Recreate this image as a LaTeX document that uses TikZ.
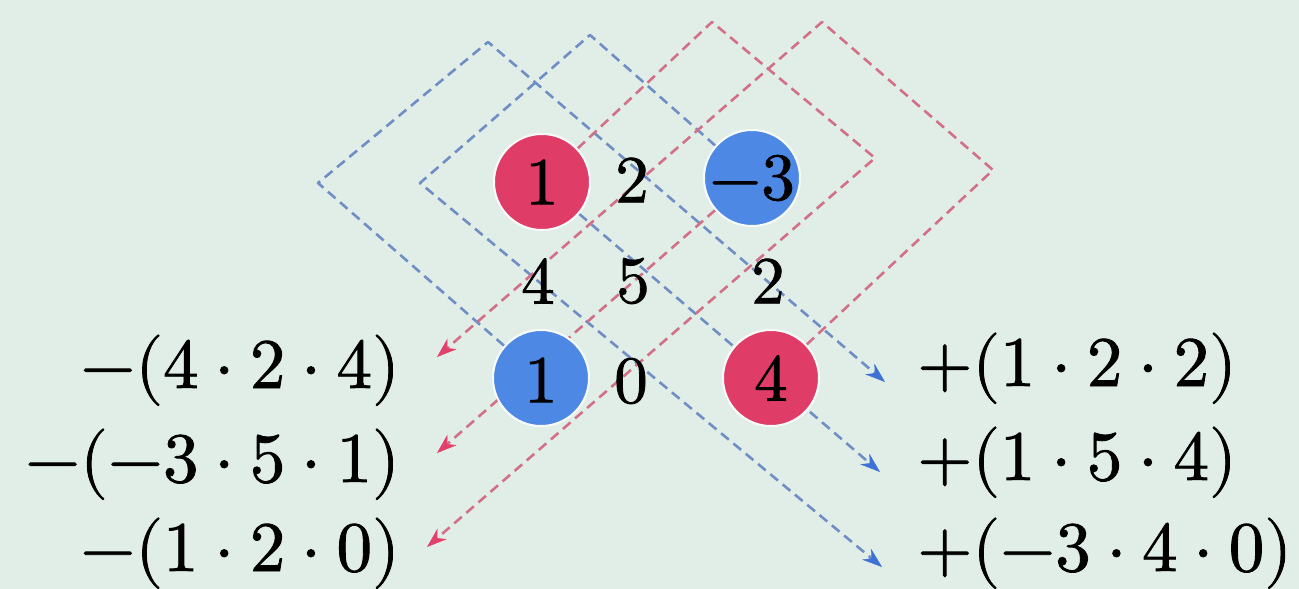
\documentclass[tikz,border=0pt]{standalone}
\usepackage{unicode-math}
\setmathfont{Latin Modern Math}[FakeBold=1.2]
\usetikzlibrary{arrows.meta}
\definecolor{bgc}{HTML}{E1EEE8}
\definecolor{redc}{HTML}{E03C68}
\definecolor{bluec}{HTML}{4C88E4}
\definecolor{reddash}{HTML}{D27088}
\definecolor{bluedash}{HTML}{6F8FC4}
\definecolor{redtip}{HTML}{E0406A}
\definecolor{bluetip}{HTML}{3F70D4}
\tikzset{
  entry/.style={inner sep=0pt, font=\fontsize{67}{80}\selectfont},
  disc/.style={circle, minimum size=96pt, inner sep=0pt, draw=white!70!bgc, line width=2pt},
  reddisc/.style={disc, fill=redc},
  bluedisc/.style={disc, fill=bluec},
  term/.style={inner sep=0pt, font=\fontsize{71}{85}\selectfont},
  reddashed/.style={draw=reddash, line width=2.6pt, dash pattern=on 10pt off 6pt, line join=round,
     -{Stealth[length=20pt, width=14pt, color=redtip, fill=redtip, line width=0.5pt]}},
  bluedashed/.style={draw=bluedash, line width=2.6pt, dash pattern=on 10pt off 6pt, line join=round,
     -{Stealth[length=20pt, width=14pt, color=bluetip, fill=bluetip, line width=0.5pt]}}
}
\begin{document}
\begin{tikzpicture}[x=1pt, y=-1pt]
\fill[bgc] (0,0) rectangle (1299,589);
\useasboundingbox (0,0) rectangle (1299,589);

% discs (positions only, drawn later on top)
\path (542,182) node[reddisc]  (r11) {}
      (752,178) node[bluedisc] (b13) {}
      (541,378) node[bluedisc] (b31) {}
      (771,378) node[reddisc]  (r33) {};

% path corners and arrow tips
\coordinate (LB1) at (318,183);
\coordinate (TB1) at (488,42);
\coordinate (LB2) at (420,183);
\coordinate (TB2) at (590,35);
\coordinate (TR1) at (712,22);
\coordinate (RR1) at (875,158);
\coordinate (TR2) at (822,22);
\coordinate (RR2) at (993,170);
\coordinate (tipB1) at (885,382);
\coordinate (tipB2) at (880,472);
\coordinate (tipB3) at (882,567);
\coordinate (tipR1) at (437,357);
\coordinate (tipR2) at (437,453);
\coordinate (tipR3) at (427,547);

% blue paths
\draw[bluedashed] (b31) -- (LB1) -- (TB1) -- (tipB1);
\draw[bluedashed] (r11) -- (tipB2);
\draw[bluedashed] (b13) -- (TB2) -- (LB2) -- (tipB3);
% red paths
\draw[reddashed] (r33) -- (RR2) -- (TR2) -- (tipR1);
\draw[reddashed] (b13) -- (tipR2);
\draw[reddashed] (r11) -- (TR1) -- (RR1) -- (tipR3);

% discs on top
\path (542,182) node[reddisc]  {}
      (752,178) node[bluedisc] {}
      (541,378) node[bluedisc] {}
      (771,378) node[reddisc]  {};

% matrix entries
\node[entry] (a11) at (542,182) {$1$};
\node[entry] (a12) at (632,180) {$2$};
\node[entry] (a13) at (752,178) {$-3$};
\node[entry] (a21) at (538,281) {$4$};
\node[entry] (a22) at (633,281) {$5$};
\node[entry] (a23) at (768,281) {$2$};
\node[entry] (a31) at (541,380) {$1$};
\node[entry] (a32) at (631,381) {$0$};
\node[entry] (a33) at (771,378) {$4$};

% terms
\node[term, anchor=base east] (m1) at (400,388) {$-(4\cdot 2\cdot 4)$};
\node[term, anchor=base east] (m2) at (400,482) {$-(-3\cdot 5\cdot 1)$};
\node[term, anchor=base east] (m3) at (400,571) {$-(1\cdot 2\cdot 0)$};
\node[term, anchor=base west] (p1) at (917,386) {$+(1\cdot 2\cdot 2)$};
\node[term, anchor=base west] (p2) at (917,480) {$+(1\cdot 5\cdot 4)$};
\node[term, anchor=base west] (p3) at (917,571) {$+(-3\cdot 4\cdot 0)$};
\end{tikzpicture}
\end{document}
